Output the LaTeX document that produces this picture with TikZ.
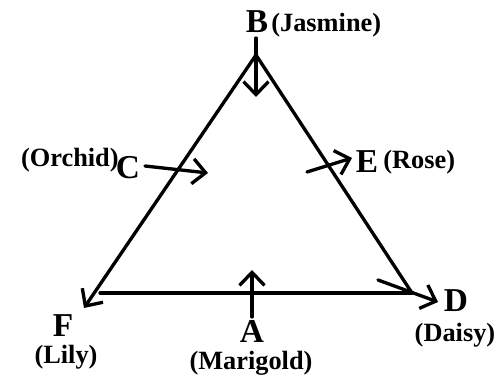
\documentclass[tikz,border=0pt]{standalone}
\usepackage{fontspec}
\setmainfont{Liberation Serif}
\usetikzlibrary{arrows.meta}

\begin{document}
\begin{tikzpicture}[
  x=0.02cm, y=-0.02cm,
  side/.style={line width=1.9pt, line cap=round},
  ptr/.style={side, -{Straight Barb[length=2.6mm,width=5mm]}},
  letter/.style={font=\fontsize{19}{19}\bfseries\selectfont, inner sep=0pt},
  flower/.style={font=\fontsize{15}{15}\bfseries\selectfont, inner sep=0pt},
]
\useasboundingbox (0,0) rectangle (504,377);

% ---- triangle corners ----
\coordinate (apex) at (256,55);
\coordinate (left) at (100,293);
\coordinate (right) at (412,293);
\coordinate (fTip) at (84,308);

\draw[side] (apex) -- (right);
\draw[side] (left) -- (right);
\draw[ptr]  (apex) -- (fTip);

% ---- short arrows ----
\coordinate (bFrom) at (256,38);  \coordinate (bTo) at (256,97);
\coordinate (aFrom) at (252,317); \coordinate (aTo) at (252,270);
\coordinate (cFrom) at (145,166); \coordinate (cTo) at (208,173);
\coordinate (eFrom) at (307,172); \coordinate (eTo) at (352,158);
\coordinate (dFrom) at (378,280); \coordinate (dTo) at (438,302);

\foreach \a/\b in {bFrom/bTo, aFrom/aTo, cFrom/cTo, eFrom/eTo, dFrom/dTo}
  \draw[ptr] (\a) -- (\b);

% ---- labels ----
\node[letter] (B) at (257,22) {B};
\node[flower, anchor=west] (jasmine) at (271,25) {(Jasmine)};
\node[letter] (C) at (128,168) {C};
\node[flower, anchor=east] (orchid) at (119,160) {(Orchid)};
\node[letter] (E) at (367,162) {E};
\node[flower, anchor=west] (rose) at (383,162) {(Rose)};
\node[letter] (F) at (63,326) {F};
\node[flower] (lily) at (66,357) {(Lily)};
\node[letter] (A) at (252,331) {A};
\node[flower] (marigold) at (251,363) {(Marigold)};
\node[letter] (D) at (456,301) {D};
\node[flower] (daisy) at (455,335) {(Daisy)};
\end{tikzpicture}
\end{document}
